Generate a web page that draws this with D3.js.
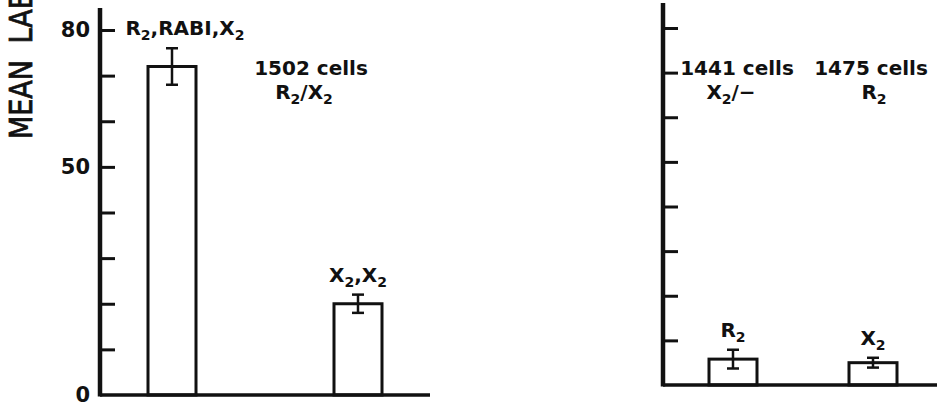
<!DOCTYPE html>
<html>
<head>
<meta charset="utf-8">
<script src="https://cdn.jsdelivr.net/npm/d3@7/dist/d3.min.js"></script>
<style>
  html, body { margin: 0; padding: 0; background: #fff; }
  svg { display: block; }
  text { font-family: "DejaVu Sans", sans-serif; fill: #111; }
</style>
</head>
<body>
<svg id="chart" width="937" height="407"></svg>
<script>
// Mean label per group, with error half-widths (same units as the y axis)
const leftGroups  = ["R_2,RABI,X_2", "X_2,X_2"];
const leftMeans   = [72, 20];
const leftErrors  = [4, 2];

const rightGroups = ["R_2", "X_2"];
const rightMeans  = [5.8, 5];
const rightErrors = [2.1, 1.1];

const yTickValues = [10, 20, 30, 40, 50, 60, 70, 80];
const yTickLabels = [0, 50, 80];

const leftNote   = ["1502 cells", "R_2/X_2"];
const rightNotes = [["1441 cells", "X_2/\u2212"], ["1475 cells", "R_2"]];

const yTitle = "MEAN LABEL";

const svg = d3.select("#chart");
const ink = "#111";

// Write a string where "_x" marks a subscript character
function rich(sel, str) {
  const parts = str.split(/(_\w)/).filter(s => s.length);
  let shifted = false;
  parts.forEach(p => {
    if (p.startsWith("_")) {
      sel.append("tspan").attr("dy", 5).attr("font-size", 14).text(p.slice(1));
      shifted = true;
    } else {
      sel.append("tspan").attr("dy", shifted ? -5 : 0).text(p);
      shifted = false;
    }
  });
  return sel;
}

function drawPanel(cfg) {
  const g = svg.append("g");
  const y = d3.scaleLinear().domain([0, 80]).range([cfg.y0, cfg.y80]);
  const x = d3.scalePoint().domain(cfg.groups).range(cfg.centers);
  const barW = 48;

  const rows = cfg.groups.map((k, i) => ({ key: k, v: cfg.means[i], e: cfg.errors[i] }));

  // bars
  g.selectAll("rect.bar").data(rows).join("rect")
    .attr("class", "bar")
    .attr("x", d => x(d.key) - barW / 2)
    .attr("width", barW)
    .attr("y", d => y(d.v))
    .attr("height", d => y(0) - y(d.v))
    .attr("fill", "#fff")
    .attr("stroke", ink)
    .attr("stroke-width", 3);

  // error bars
  const eb = g.selectAll("g.err").data(rows).join("g").attr("class", "err")
    .attr("stroke", ink).attr("stroke-width", 2.5);
  eb.append("line")
    .attr("x1", d => x(d.key)).attr("x2", d => x(d.key))
    .attr("y1", d => y(d.v + d.e)).attr("y2", d => y(d.v - d.e));
  eb.append("line")
    .attr("x1", d => x(d.key) - 6).attr("x2", d => x(d.key) + 6)
    .attr("y1", d => y(d.v + d.e)).attr("y2", d => y(d.v + d.e));
  eb.append("line")
    .attr("x1", d => x(d.key) - 6).attr("x2", d => x(d.key) + 6)
    .attr("y1", d => y(d.v - d.e)).attr("y2", d => y(d.v - d.e));

  // group labels above each bar
  g.selectAll("text.glabel").data(rows).join("text")
    .attr("class", "glabel")
    .attr("x", (d, i) => x(d.key) + (cfg.labelShift ? cfg.labelShift[i] : 0))
    .attr("y", d => y(d.v + d.e) - 13)
    .attr("text-anchor", "middle")
    .attr("font-size", 20)
    .attr("font-weight", "bold")
    .each(function (d) { rich(d3.select(this), d.key); });

  // inward ticks
  const ticks = g.append("g")
    .attr("transform", `translate(${cfg.axisX},0)`)
    .call(d3.axisRight(y).tickValues(yTickValues).tickSize(15).tickFormat(""));
  ticks.select(".domain").remove();
  ticks.selectAll("line").attr("stroke", ink).attr("stroke-width", 3);

  // tick labels
  if (cfg.labels) {
    const lab = g.append("g")
      .attr("transform", `translate(${cfg.axisX},0)`)
      .call(d3.axisLeft(y).tickValues(yTickLabels).tickSize(0).tickPadding(10).tickFormat(d3.format("d")));
    lab.select(".domain").remove();
    lab.selectAll("text")
      .attr("font-size", 21)
      .attr("font-weight", "bold")
      .attr("font-family", "DejaVu Sans, sans-serif")
      .attr("fill", ink);
  }

  // axis line and baseline
  g.append("line")
    .attr("x1", cfg.axisX).attr("x2", cfg.axisX)
    .attr("y1", y(0) + 1.5).attr("y2", cfg.axisTop)
    .attr("stroke", ink).attr("stroke-width", 4.5);
  g.append("line")
    .attr("x1", cfg.axisX).attr("x2", cfg.xEnd)
    .attr("y1", y(0)).attr("y2", y(0))
    .attr("stroke", ink).attr("stroke-width", 3.5);

  // cell-count notes
  cfg.notes.forEach(n => {
    n.lines.forEach((line, j) => {
      g.append("text")
        .attr("x", n.x + (j ? n.dx2 : 0))
        .attr("y", 75 + j * 24)
        .attr("text-anchor", "middle")
        .attr("font-size", 20)
        .attr("font-weight", "bold")
        .call(sel => rich(sel, line));
    });
  });
}

drawPanel({
  groups: leftGroups, means: leftMeans, errors: leftErrors,
  axisX: 100, y0: 395, y80: 30, axisTop: 8, xEnd: 430,
  centers: [172, 358], labelShift: [13, 0], labels: true,
  notes: [{ lines: leftNote, x: 311, dx2: -7 }]
});

drawPanel({
  groups: rightGroups, means: rightMeans, errors: rightErrors,
  axisX: 663, y0: 385, y80: 28, axisTop: 3, xEnd: 937,
  centers: [733, 873], labels: false,
  notes: [
    { lines: rightNotes[0], x: 737, dx2: -6 },
    { lines: rightNotes[1], x: 871, dx2: 3 }
  ]
});

// y axis title
svg.append("text")
  .attr("transform", "translate(32,139) rotate(-90) scale(1,1.2)")
  .attr("font-size", 27)
  .attr("word-spacing", 8)
  .attr("stroke", ink)
  .attr("stroke-width", 0.7)
  .attr("text-anchor", "start")
  .text(yTitle);
</script>
</body>
</html>
